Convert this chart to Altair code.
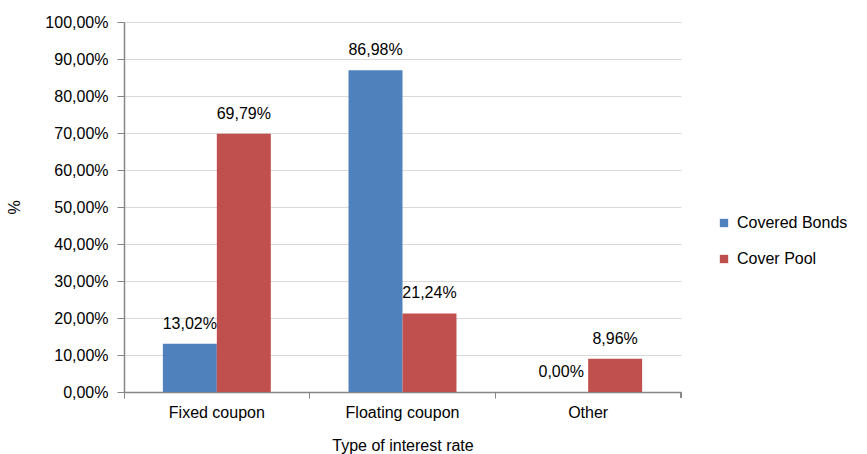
import altair as alt
import pandas as pd

categories = ["Fixed coupon", "Floating coupon", "Other"]
series = ["Covered Bonds", "Cover Pool"]
covered_bonds = [0.1302, 0.8698, 0.0]
cover_pool = [0.6979, 0.2124, 0.0896]
y_ticks = [0.0, 0.1, 0.2, 0.3, 0.4, 0.5, 0.6, 0.7, 0.8, 0.9, 1.0]
colors = ["#4F81BD", "#C0504D"]

rows = []
for c, a, b in zip(categories, covered_bonds, cover_pool):
    rows.append({"cat": c, "series": series[0], "value": a})
    rows.append({"cat": c, "series": series[1], "value": b})
df = pd.DataFrame(rows)
df["label"] = df["value"].map(lambda v: f"{v*100:.2f}%".replace(".", ","))

W, H = 557, 370
FONT = "Liberation Sans"

x_enc = alt.X(
    "cat:N",
    sort=categories,
    scale=alt.Scale(paddingInner=0, paddingOuter=0),
    axis=alt.Axis(
        title="Type of interest rate",
        labelAngle=0,
        bandPosition=0,
        tickSize=6,
        labelPadding=6,
        titlePadding=17,
        grid=False,
    ),
)
xoff_enc = alt.XOffset(
    "series:N", sort=series, scale=alt.Scale(paddingInner=0, paddingOuter=0.72)
)
y_enc = alt.Y(
    "value:Q",
    scale=alt.Scale(domain=[0, 1], nice=False),
    axis=alt.Axis(
        title="%",
        values=y_ticks,
        tickCount=11,
        labelExpr="replace(format(datum.value, '.2%'), '.', ',')",
        labelOverlap=False,
        tickSize=7,
        labelPadding=9,
        titleX=-102,
        titleY=H / 2,
    ),
)

base = alt.Chart(df)

bars = base.mark_bar().encode(
    x=x_enc,
    xOffset=xoff_enc,
    y=y_enc,
    color=alt.Color(
        "series:N",
        sort=series,
        scale=alt.Scale(domain=series, range=colors),
        legend=alt.Legend(
            title=None,
            orient="none",
            legendX=592,
            legendY=193,
            symbolType="square",
            symbolSize=70,
            symbolStrokeWidth=0,
            rowPadding=20,
            labelFontSize=16,
            labelFont=FONT,
            labelColor="#000000",
            labelOffset=5,
        ),
    ),
)

texts = base.mark_text(
    baseline="alphabetic", dy=-15, fontSize=16, font=FONT, color="#000000"
).encode(
    x=x_enc,
    xOffset=xoff_enc,
    y=y_enc,
    text="label:N",
)

end_tick = alt.Chart(df).mark_rule(color="#868686", strokeWidth=1).encode(
    x=alt.value(W), y=alt.value(H), y2=alt.value(H + 6)
)

chart = (
    alt.layer(bars, texts, end_tick)
    .properties(
        width=W,
        height=H,
        autosize=alt.AutoSizeParams(type="none"),
        padding={"left": 124, "top": 22, "right": 867 - 124 - W, "bottom": 454 - 22 - H},
    )
    .configure_view(stroke=None)
    .configure_axis(
        labelFont=FONT,
        titleFont=FONT,
        labelFontSize=16,
        titleFontSize=16,
        titleFontWeight="normal",
        labelColor="#000000",
        titleColor="#000000",
        domainColor="#868686",
        tickColor="#868686",
        gridColor="#D9D9D9",
        gridWidth=1,
    )
    .configure_axisX(domainWidth=1.5)
    .configure_axisY(domainWidth=1.5)
)

chart.save("out.html", embed_options={"renderer": "svg", "actions": False})
